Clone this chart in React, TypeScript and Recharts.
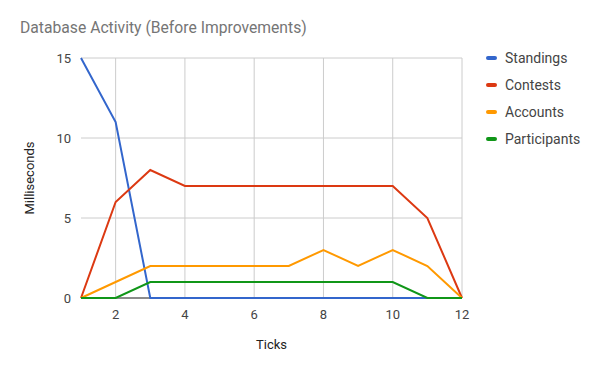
import React from "react";
import { LineChart, Line, XAxis, YAxis, CartesianGrid, Legend, ReferenceLine, Label } from "recharts";

const ticks = [1, 2, 3, 4, 5, 6, 7, 8, 9, 10, 11, 12];
const standings = [15, 11, 0, 0, 0, 0, 0, 0, 0, 0, 0, 0];
const contests = [0, 6, 8, 7, 7, 7, 7, 7, 7, 7, 5, 0];
const accounts = [0, 1, 2, 2, 2, 2, 2, 3, 2, 3, 2, 0];
const participants = [0, 0, 1, 1, 1, 1, 1, 1, 1, 1, 0, 0];
const xTicks = [2, 4, 6, 8, 10, 12];
const yTicks = [0, 5, 10, 15];

const seriesNames = ["Standings", "Contests", "Accounts", "Participants"];
const colors = ["#3366cc", "#dc3912", "#ff9900", "#109618"];

const data = ticks.map((t, i) => ({
  tick: t,
  Standings: standings[i],
  Contests: contests[i],
  Accounts: accounts[i],
  Participants: participants[i],
}));

const FONT = "Roboto, Arial, sans-serif";

const LegendContent = () => (
  <div style={{ fontFamily: FONT, fontSize: 14, color: "#444" }}>
    {seriesNames.map((n, i) => (
      <div key={n} style={{ display: "flex", alignItems: "center", height: 27 }}>
        <div style={{ width: 11, height: 4, borderRadius: 2, background: colors[i], marginRight: 8 }} />
        <span>{n}</span>
      </div>
    ))}
  </div>
);

export default function App() {
  return (
    <div style={{ position: "absolute", left: 0, top: 0, width: 600, height: 371, background: "#fff" }}>
      <div
        style={{
          position: "absolute",
          left: 20,
          top: 18,
          fontFamily: FONT,
          fontSize: 15.7,
          color: "#757575",
          whiteSpace: "nowrap",
        }}
      >
        Database Activity (Before Improvements)
      </div>
      <LineChart
        width={600}
        height={371}
        data={data}
        margin={{ top: 58, right: 138, left: 51, bottom: 43 }}
        style={{ fontFamily: FONT }}
      >
        <CartesianGrid stroke="#cccccc" verticalValues={xTicks} horizontalValues={yTicks} />
        <XAxis
          dataKey="tick"
          type="number"
          domain={[1, 12]}
          ticks={xTicks}
          axisLine={false}
          tickLine={false}
          height={30}
          tick={{ fill: "#444", fontSize: 13 }}
          tickMargin={6}
        >
          <Label value="Ticks" position="bottom" offset={12} style={{ fill: "#222", fontSize: 13 }} />
        </XAxis>
        <YAxis
          type="number"
          domain={[0, 15]}
          ticks={yTicks}
          axisLine={false}
          tickLine={false}
          width={30}
          tick={{ fill: "#444", fontSize: 13 }}
          tickMargin={4}
        >
          <Label
            value="Milliseconds"
            angle={-90}
            position="insideLeft"
            offset={-22}
            style={{ fill: "#222", fontSize: 13, textAnchor: "middle" }}
          />
        </YAxis>
        <ReferenceLine y={0} stroke="#333" strokeWidth={1} />
        {seriesNames.map((n, i) => (
          <Line
            key={n}
            type="linear"
            dataKey={n}
            stroke={colors[i]}
            strokeWidth={2}
            dot={false}
            activeDot={false}
            isAnimationActive={false}
          />
        ))}
        <Legend
          layout="vertical"
          align="center"
          verticalAlign="middle"
          content={<LegendContent />}
          wrapperStyle={{ left: 486, top: 44, width: 120 }}
        />
      </LineChart>
    </div>
  );
}
